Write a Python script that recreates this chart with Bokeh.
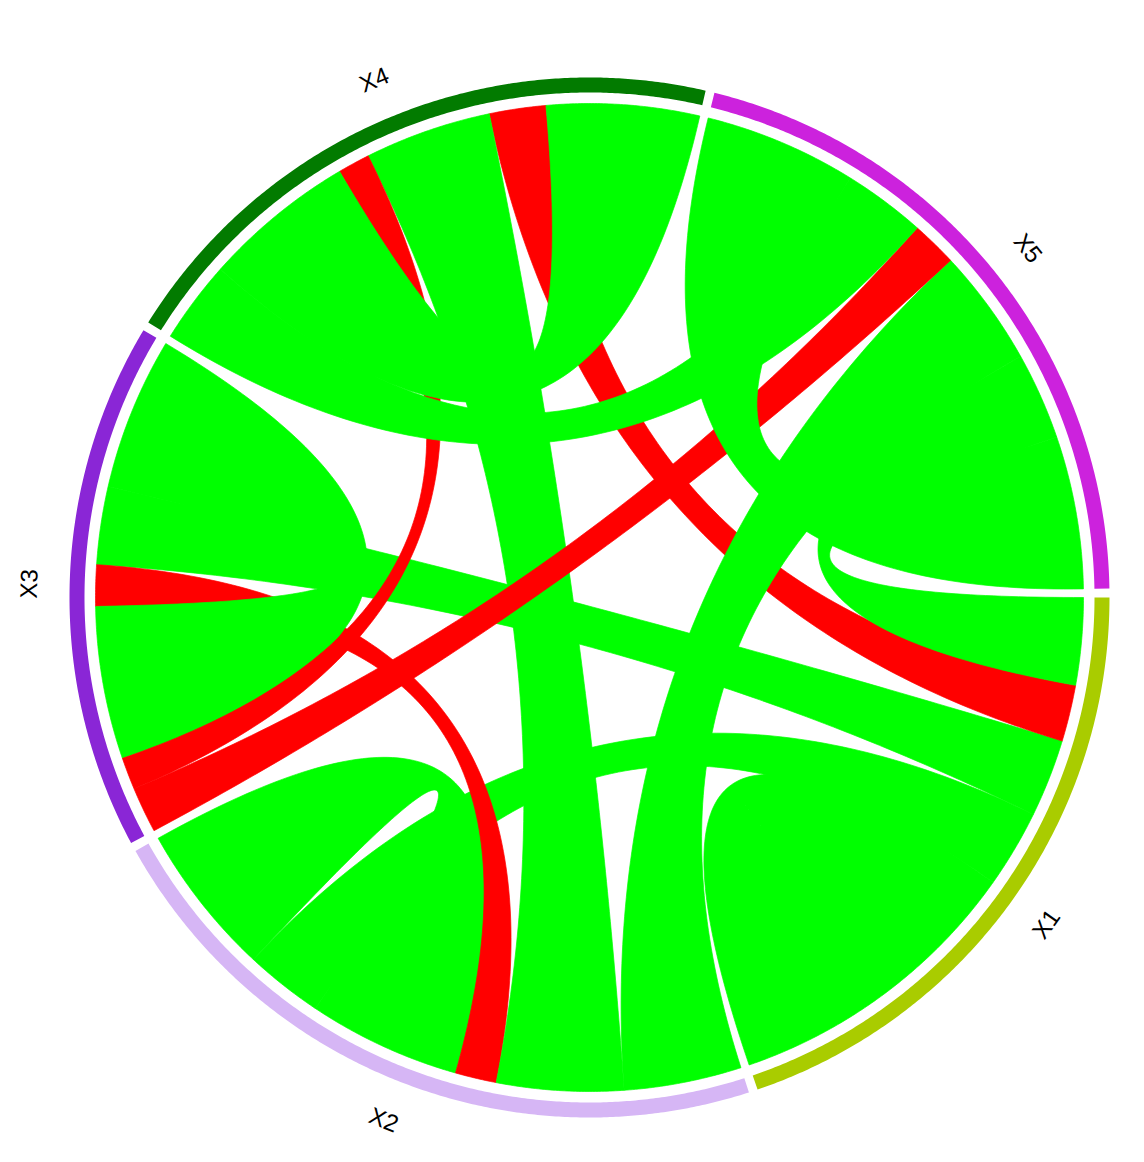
import numpy as np
from bokeh.plotting import figure
from bokeh.models import Range1d
from bokeh.embed import file_html
from bokeh.resources import INLINE
from bokeh.core.properties import value

# ---------------- data ----------------
names = ["X1", "X2", "X3", "X4", "X5"]
sector_colors = ["#A9CC00", "#D6B6F5", "#8A26D6", "#027B00", "#CC22DD"]
# lower triangle of the correlation matrix (row i, columns 0..i)
corr_x1 = [1.00]
corr_x2 = [0.51, 1.00]
corr_x3 = [0.51, -0.27, 1.00]
corr_x4 = [-0.37, 0.83, -0.21, 1.00]
corr_x5 = [0.57, 0.77, -0.30, 0.54, 1.00]
corr_lower = [corr_x1, corr_x2, corr_x3, corr_x4, corr_x5]
pos_color = "#00FF00"
neg_color = "#FF0000"

# ---------------- layout constants ----------------
GAP = 1.0          # degrees between sectors
START = 0.0        # first sector starts at 3 o'clock, clockwise
R_LINK = 494.0
R_IN, R_OUT = 505.0, 520.0
R_LABEL = 561.0
CX, CY = 589.0, 597.0   # circle centre in page pixels
W, H = 1128, 1146

n = len(names)


def r(i, j):
    a, b = max(i, j), min(i, j)
    return corr_lower[a][b]


totals = [sum(abs(r(i, j)) for j in range(n)) + abs(r(i, i)) for i in range(n)]
U = (360.0 - n * GAP) / sum(totals)

sec_start, sec_end = [], []
s = START
for i in range(n):
    sec_start.append(s)
    e = s - totals[i] * U
    sec_end.append(e)
    s = e - GAP

# positions of link ends inside every sector
ends = {}
self_ends = {i: [] for i in range(n)}
for i in range(n):
    order = list(range(n - 1, -1, -1)) + [i]
    pos = sec_start[i]
    for j in order:
        w = abs(r(i, j)) * U
        seg = (pos, pos - w)
        pos -= w
        if j == i:
            self_ends[i].append(seg)
        else:
            ends[(i, j)] = seg


def arc(rad, a0, a1):
    m = max(2, int(abs(a1 - a0) * 3) + 2)
    t = np.radians(np.linspace(a0, a1, m))
    return list(rad * np.cos(t)), list(rad * np.sin(t))


def bez(a0, a1):
    p0 = np.array([R_LINK * np.cos(np.radians(a0)), R_LINK * np.sin(np.radians(a0))])
    p2 = np.array([R_LINK * np.cos(np.radians(a1)), R_LINK * np.sin(np.radians(a1))])
    t = np.linspace(0, 1, 100)[:, None]
    pts = (1 - t) ** 2 * p0 + t ** 2 * p2   # control point at the centre
    return list(pts[:, 0]), list(pts[:, 1])


def ribbon(A, B):
    xs, ys = [], []
    for part in (arc(R_LINK, A[0], A[1]), bez(A[1], B[0]),
                 arc(R_LINK, B[0], B[1]), bez(B[1], A[0])):
        xs += part[0]
        ys += part[1]
    return xs, ys


link_xs, link_ys, link_cols = [], [], []
for j in range(n):
    for i in range(j, n):
        v = r(i, j)
        if i == j:
            A, B = self_ends[i]
        else:
            A, B = ends[(i, j)], ends[(j, i)]
        xs, ys = ribbon(A, B)
        link_xs.append(xs)
        link_ys.append(ys)
        link_cols.append(pos_color if v > 0 else neg_color)

# ---------------- figure ----------------
p = figure(width=W, height=H, output_backend="svg", toolbar_location=None,
           x_range=Range1d(-CX, -CX + W), y_range=Range1d(CY - H, CY),
           x_axis_location=None, y_axis_location=None, min_border=0)
p.grid.visible = False
p.outline_line_color = None
p.background_fill_color = "white"
p.border_fill_color = "white"

p.patches(link_xs, link_ys, fill_color=link_cols, line_color=link_cols,
          line_width=0.7, line_join="round")

# outer grid track
ring_xs, ring_ys = [], []
for i in range(n):
    ox, oy = arc(R_OUT, sec_start[i], sec_end[i])
    ix, iy = arc(R_IN, sec_end[i], sec_start[i])
    ring_xs.append(ox + ix)
    ring_ys.append(oy + iy)
p.patches(ring_xs, ring_ys, fill_color=sector_colors, line_color=None)

# sector names
lx, ly, la = [], [], []
for i in range(n):
    mid = (sec_start[i] + sec_end[i]) / 2.0
    m = ((mid + 180) % 360) - 180
    lx.append(R_LABEL * np.cos(np.radians(mid)))
    ly.append(R_LABEL * np.sin(np.radians(mid)))
    rot = m - 90 if m >= 0 else m + 90
    la.append(np.radians(rot))
p.text(x=lx, y=ly, text=names, angle=la, text_font=value("Liberation Sans"),
       text_font_size="24px", text_align="center", text_baseline="middle",
       text_color="black")

open("out.html", "w").write(file_html(p, INLINE))
